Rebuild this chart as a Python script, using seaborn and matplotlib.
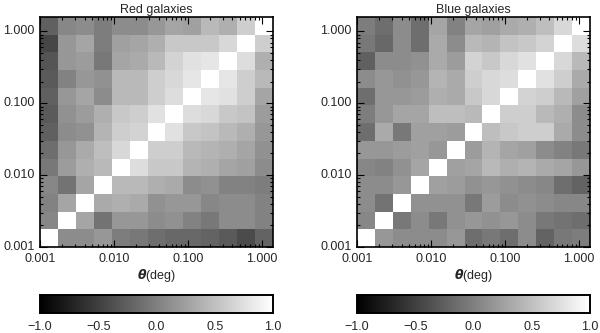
import numpy as np
import pandas as pd
import seaborn as sns
import matplotlib.pyplot as plt

# correlation matrices, rows listed from the top of the panel (largest theta) down
red_corr = [
    [-0.25, 0.06, 0.10, -0.02, 0.10, 0.10, 0.18, 0.29, 0.25, 0.45, 0.37, 0.61, 1.00],
    [-0.45, 0.18, 0.29, -0.02, 0.25, 0.29, 0.37, 0.57, 0.57, 0.57, 0.69, 1.00, 0.61],
    [-0.33, 0.18, 0.22, -0.06, 0.29, 0.33, 0.45, 0.65, 0.76, 0.80, 1.00, 0.73, 0.37],
    [-0.29, 0.02, 0.18, 0.14, 0.45, 0.45, 0.61, 0.69, 0.80, 1.00, 0.80, 0.61, 0.45],
    [-0.25, 0.18, 0.29, 0.10, 0.45, 0.45, 0.61, 0.73, 1.00, 0.80, 0.76, 0.61, 0.29],
    [-0.29, 0.14, 0.22, 0.37, 0.57, 0.61, 0.76, 1.00, 0.73, 0.69, 0.57, 0.53, 0.22],
    [-0.25, 0.10, 0.14, 0.41, 0.61, 0.65, 1.00, 0.76, 0.57, 0.53, 0.45, 0.37, 0.18],
    [-0.14, 0.18, 0.33, 0.49, 0.69, 1.00, 0.61, 0.61, 0.45, 0.41, 0.37, 0.29, 0.14],
    [-0.06, 0.22, 0.37, 0.45, 1.00, 0.73, 0.57, 0.57, 0.41, 0.37, 0.29, 0.25, 0.10],
    [0.06, -0.10, 0.29, 1.00, 0.45, 0.45, 0.37, 0.33, 0.10, 0.14, 0.02, 0.02, -0.02],
    [0.02, 0.29, 1.00, 0.33, 0.37, 0.33, 0.14, 0.18, 0.18, 0.06, 0.10, 0.10, 0.02],
    [0.06, 1.00, 0.29, -0.10, 0.18, 0.18, 0.10, 0.14, 0.02, -0.06, 0.10, 0.10, 0.02],
    [1.00, 0.10, 0.10, 0.18, -0.02, -0.06, -0.14, -0.18, -0.18, -0.22, -0.29, -0.41, -0.22],
]

blue_corr = [
    [-0.02, -0.14, 0.10, -0.14, 0.29, 0.02, 0.29, 0.25, 0.33, 0.37, 0.49, 0.69, 1.00],
    [-0.06, -0.18, 0.10, -0.14, 0.33, 0.10, 0.45, 0.41, 0.53, 0.57, 0.65, 1.00, 0.73],
    [-0.25, 0.10, 0.10, 0.14, 0.33, 0.22, 0.65, 0.57, 0.69, 0.76, 1.00, 0.69, 0.45],
    [0.10, 0.18, 0.14, 0.18, 0.41, 0.33, 0.61, 0.69, 0.73, 1.00, 0.76, 0.61, 0.33],
    [-0.14, 0.18, 0.18, 0.22, 0.37, 0.33, 0.57, 0.69, 1.00, 0.65, 0.61, 0.45, 0.25],
    [-0.02, 0.18, 0.29, 0.29, 0.49, 0.49, 0.45, 1.00, 0.61, 0.61, 0.45, 0.37, 0.10],
    [-0.14, 0.33, -0.06, 0.25, 0.25, 0.22, 1.00, 0.49, 0.57, 0.61, 0.61, 0.33, 0.10],
    [0.18, 0.18, 0.22, 0.25, 0.18, 1.00, 0.22, 0.41, 0.29, 0.25, 0.10, 0.02, -0.06],
    [0.06, 0.02, 0.14, 0.29, 1.00, 0.25, 0.29, 0.45, 0.37, 0.41, 0.33, 0.29, 0.18],
    [0.10, 0.10, 0.18, 1.00, 0.25, 0.22, 0.14, 0.18, 0.14, 0.10, 0.06, -0.14, -0.22],
    [0.10, -0.10, 1.00, 0.14, 0.14, 0.14, -0.06, 0.22, 0.10, 0.14, 0.10, 0.06, 0.06],
    [0.06, 1.00, -0.06, 0.10, -0.06, 0.14, 0.18, 0.14, 0.18, 0.10, -0.06, -0.10, -0.14],
    [1.00, 0.18, 0.10, 0.10, 0.10, 0.18, -0.14, -0.06, -0.14, 0.10, -0.22, -0.06, -0.02],
]

titles = ["Red galaxies", "Blue galaxies"]
major_ticks = [0.001, 0.01, 0.1, 1.0]
major_labels = ["0.001", "0.010", "0.100", "1.000"]
cbar_ticks = [-1.0, -0.5, 0.0, 0.5, 1.0]

# log10 range covered by the 13 cells along each axis
LOG_MIN = -3.0
LOGX_MAX = 0.15
LOGY_MAX = 0.20
NBIN = 13

sns.set_style("ticks")
plt.rcParams["font.family"] = ["Liberation Sans", "DejaVu Sans"]
plt.rcParams["font.size"] = 9
plt.rcParams["mathtext.fontset"] = "dejavusans"


def xpos(v):
    return (np.log10(v) - LOG_MIN) / (LOGX_MAX - LOG_MIN) * NBIN


def ypos(v):
    return NBIN - (np.log10(v) - LOG_MIN) / (LOGY_MAX - LOG_MIN) * NBIN


minor = [m * 10.0 ** d for d in range(-3, 1) for m in range(2, 10)]
minor_x = [v for v in minor if xpos(v) < NBIN]
minor_y = [v for v in minor if ypos(v) > 0]

fig = plt.figure(figsize=(6.0, 3.33), dpi=100)
lefts = [40 / 600, 357 / 600]
for i, corr in enumerate([red_corr, blue_corr]):
    ax = fig.add_axes([lefts[i], 1 - 247 / 333, 233 / 600, 230 / 333])
    cax = fig.add_axes([lefts[i], 1 - 313 / 333, 233 / 600, 18 / 333])
    df = pd.DataFrame(corr)
    sns.heatmap(df, ax=ax, cmap="gray", vmin=-1, vmax=1, cbar_ax=cax,
                cbar_kws={"orientation": "horizontal", "ticks": cbar_ticks})
    ax.set_axisbelow(False)

    ax.set_xticks([xpos(v) for v in major_ticks])
    ax.set_xticklabels(major_labels, rotation=0)
    ax.set_yticks([ypos(v) for v in major_ticks])
    ax.set_yticklabels(major_labels, rotation=0)
    ax.set_xticks([xpos(v) for v in minor_x], minor=True)
    ax.set_yticks([ypos(v) for v in minor_y], minor=True)
    ax.tick_params(which="both", direction="in", top=True, right=True,
                   bottom=True, left=True, color="black", width=0.8)
    ax.tick_params(which="major", length=5, labelsize=9, pad=4)
    ax.tick_params(which="minor", length=2.5)
    for sp in ax.spines.values():
        sp.set_visible(True)
        sp.set_linewidth(1.2)
        sp.set_color("black")
    ax.set_xlim(0, NBIN)
    ax.set_ylim(NBIN, 0)
    ax.set_xlabel(r"$\boldsymbol{\theta}$(deg)", fontsize=9, labelpad=2)
    ax.set_ylabel("")
    ax.set_title(titles[i], fontsize=9, pad=3)

    cax.set_xticklabels([f"{t:.1f}".replace("-", "\u2212") for t in cbar_ticks])
    cax.tick_params(axis="x", length=0, labelsize=9, pad=6)
    for sp in cax.spines.values():
        sp.set_visible(True)
        sp.set_linewidth(1.2)
        sp.set_color("black")

plt.savefig("out.png", dpi=100)
